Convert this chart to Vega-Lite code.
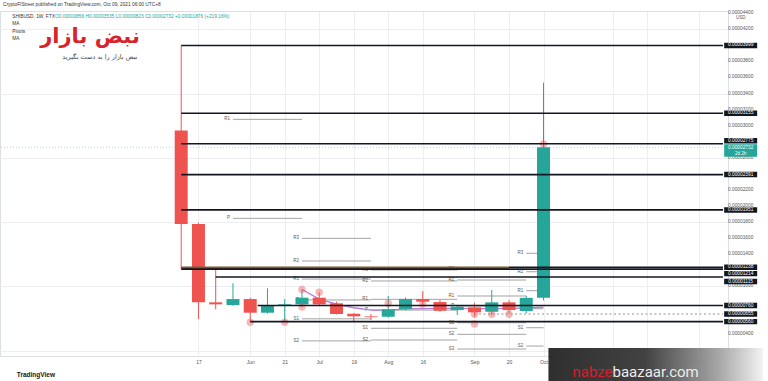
{
  "$schema": "https://vega.github.io/schema/vega-lite/v6.json",
  "width": 728,
  "height": 345,
  "autosize": {"type": "none"},
  "padding": {"left": 0, "top": 11, "right": 40, "bottom": 25},
  "background": "white",
  "title": {
    "text": "CryptoFIStreet published on TradingView.com, Oct 09, 2021 06:00 UTC+8",
    "anchor": "start", "frame": "group", "offset": 3, "dx": 3,
    "fontSize": 4.8, "font": "Liberation Sans", "fontWeight": "normal", "color": "#333333"
  },
  "config": {
    "view": {"stroke": "#dcdfe6"},
    "font": "Liberation Sans",
    "axis": {"title": null, "gridColor": "#eceef3", "tickSize": 0, "domain": false, "labelColor": "#555555", "labelFont": "Liberation Sans", "labelOverlap": false}
  },
  "datasets": {
    "candles": [
      {"date": "2021-05-10", "open": 0.0000294, "high": 0.00003999, "low": 0.00001214, "close": 0.00001775},
      {"date": "2021-05-17", "open": 0.00001775, "high": 0.00001792, "low": 0.00000592, "close": 0.0000080},
      {"date": "2021-05-24", "open": 0.0000080, "high": 0.00001231, "low": 0.00000713, "close": 0.00000775},
      {"date": "2021-05-31", "open": 0.00000767, "high": 0.00001037, "low": 0.00000755, "close": 0.00000841},
      {"date": "2021-06-07", "open": 0.00000841, "high": 0.00000858, "low": 0.0000056, "close": 0.00000671},
      {"date": "2021-06-14", "open": 0.00000671, "high": 0.00000975, "low": 0.0000066, "close": 0.00000767},
      {"date": "2021-06-21", "open": 0.00000758, "high": 0.00000841, "low": 0.0000056, "close": 0.00000775},
      {"date": "2021-06-28", "open": 0.00000775, "high": 0.0000096, "low": 0.00000742, "close": 0.00000858},
      {"date": "2021-07-05", "open": 0.00000858, "high": 0.00000925, "low": 0.00000755, "close": 0.00000775},
      {"date": "2021-07-12", "open": 0.00000788, "high": 0.00000808, "low": 0.0000065, "close": 0.00000655},
      {"date": "2021-07-19", "open": 0.00000658, "high": 0.00000665, "low": 0.00000567, "close": 0.00000626},
      {"date": "2021-07-26", "open": 0.00000625, "high": 0.00000655, "low": 0.0000058, "close": 0.00000615},
      {"date": "2021-08-02", "open": 0.00000621, "high": 0.00000879, "low": 0.0000061, "close": 0.00000713},
      {"date": "2021-08-09", "open": 0.00000717, "high": 0.0000086, "low": 0.000007, "close": 0.00000841},
      {"date": "2021-08-16", "open": 0.00000841, "high": 0.00000941, "low": 0.00000767, "close": 0.00000808},
      {"date": "2021-08-23", "open": 0.00000804, "high": 0.0000083, "low": 0.0000068, "close": 0.00000696},
      {"date": "2021-08-30", "open": 0.00000704, "high": 0.00000767, "low": 0.00000642, "close": 0.00000746},
      {"date": "2021-09-06", "open": 0.00000738, "high": 0.00000795, "low": 0.00000621, "close": 0.00000676},
      {"date": "2021-09-13", "open": 0.00000683, "high": 0.00000954, "low": 0.00000642, "close": 0.000008},
      {"date": "2021-09-20", "open": 0.000008, "high": 0.00000829, "low": 0.00000663, "close": 0.00000704},
      {"date": "2021-09-27", "open": 0.00000692, "high": 0.0000088, "low": 0.00000663, "close": 0.00000856},
      {"date": "2021-10-04", "open": 0.00000856, "high": 0.00003535, "low": 0.00000823, "close": 0.00002732}
    ],
    "ma": [
      {"date": "2021-06-28", "value": 0.0000096},
      {"date": "2021-07-05", "value": 0.00000841},
      {"date": "2021-07-12", "value": 0.00000777},
      {"date": "2021-07-19", "value": 0.00000733},
      {"date": "2021-07-26", "value": 0.00000704},
      {"date": "2021-08-02", "value": 0.00000704},
      {"date": "2021-08-09", "value": 0.00000717},
      {"date": "2021-08-16", "value": 0.00000723},
      {"date": "2021-08-23", "value": 0.00000726},
      {"date": "2021-08-30", "value": 0.00000726},
      {"date": "2021-09-06", "value": 0.00000723},
      {"date": "2021-09-13", "value": 0.00000723},
      {"date": "2021-09-20", "value": 0.00000726},
      {"date": "2021-09-27", "value": 0.0000073},
      {"date": "2021-10-04", "value": 0.0000074}
    ],
    "circles": [
      {"date": "2021-06-07", "value": 0.00000553},
      {"date": "2021-06-21", "value": 0.00000553},
      {"date": "2021-06-28", "value": 0.0000096},
      {"date": "2021-06-28", "value": 0.00000742},
      {"date": "2021-07-05", "value": 0.00000925},
      {"date": "2021-08-02", "value": 0.00000788},
      {"date": "2021-08-16", "value": 0.00000775},
      {"date": "2021-09-06", "value": 0.00000651},
      {"date": "2021-09-06", "value": 0.0000053},
      {"date": "2021-09-13", "value": 0.00000651},
      {"date": "2021-09-20", "value": 0.00000651},
      {"date": "2021-10-04", "value": 0.00002772}
    ],
    "pivots": [
      {"start": "2021-05-31", "end": "2021-06-28", "label": "R1", "value": 0.00003079},
      {"start": "2021-05-31", "end": "2021-06-28", "label": "P", "value": 0.00001846},
      {"start": "2021-06-28", "end": "2021-07-26", "label": "R3", "value": 0.00001597},
      {"start": "2021-06-28", "end": "2021-07-26", "label": "R2", "value": 0.00001315},
      {"start": "2021-06-28", "end": "2021-07-26", "label": "R1", "value": 0.0000109},
      {"start": "2021-06-28", "end": "2021-07-26", "label": "P", "value": 0.0000083},
      {"start": "2021-06-28", "end": "2021-07-26", "label": "S1", "value": 0.00000595},
      {"start": "2021-06-28", "end": "2021-07-26", "label": "S2", "value": 0.0000032},
      {"start": "2021-07-26", "end": "2021-08-30", "label": "R3", "value": 0.00001203},
      {"start": "2021-07-26", "end": "2021-08-30", "label": "R2", "value": 0.00001066},
      {"start": "2021-07-26", "end": "2021-08-30", "label": "R1", "value": 0.00000838},
      {"start": "2021-07-26", "end": "2021-08-30", "label": "P", "value": 0.00000704},
      {"start": "2021-07-26", "end": "2021-08-30", "label": "S1", "value": 0.00000477},
      {"start": "2021-07-26", "end": "2021-08-30", "label": "S2", "value": 0.00000331},
      {"start": "2021-08-30", "end": "2021-09-27", "label": "R3", "value": 0.00001211},
      {"start": "2021-08-30", "end": "2021-09-27", "label": "R2", "value": 0.00001078},
      {"start": "2021-08-30", "end": "2021-09-27", "label": "R1", "value": 0.00000879},
      {"start": "2021-08-30", "end": "2021-09-27", "label": "P", "value": 0.00000754},
      {"start": "2021-08-30", "end": "2021-09-27", "label": "S1", "value": 0.00000546},
      {"start": "2021-08-30", "end": "2021-09-27", "label": "S2", "value": 0.00000402},
      {"start": "2021-08-30", "end": "2021-09-27", "label": "S3", "value": 0.00000219},
      {"start": "2021-09-27", "end": "2021-10-04", "label": "R3", "value": 0.00001411},
      {"start": "2021-09-27", "end": "2021-10-04", "label": "R2", "value": 0.00001181},
      {"start": "2021-09-27", "end": "2021-10-04", "label": "R1", "value": 0.00000945},
      {"start": "2021-09-27", "end": "2021-10-04", "label": "P", "value": 0.0000072},
      {"start": "2021-09-27", "end": "2021-10-04", "label": "S1", "value": 0.00000484},
      {"start": "2021-09-27", "end": "2021-10-04", "label": "S2", "value": 0.00000256}
    ],
    "levels": [
      {"start": "2021-05-10", "value": 0.00003999},
      {"start": "2021-05-10", "value": 0.00003155},
      {"start": "2021-05-10", "value": 0.00002775},
      {"start": "2021-05-10", "value": 0.00002391},
      {"start": "2021-05-10", "value": 0.00001951},
      {"start": "2021-09-20", "value": 0.00001238},
      {"start": "2021-05-10", "value": 0.00001214},
      {"start": "2021-05-24", "value": 0.00001115},
      {"start": "2021-06-10", "value": 0.0000076},
      {"start": "2021-06-07", "value": 0.0000056}
    ],
    "dotted": [{"start": "2021-09-06", "value": 0.00000655}],
    "band": [{"start": "2021-05-10", "end": "2021-09-20", "value": 0.0000123}],
    "yticks": [
      {"value": 0.000002}, {"value": 0.000004}, {"value": 0.00001},
      {"value": 0.000014}, {"value": 0.000016}, {"value": 0.000018}, {"value": 0.00002},
      {"value": 0.000022}, {"value": 0.000026}, {"value": 0.00003},
      {"value": 0.000032}, {"value": 0.000034}, {"value": 0.000036}, {"value": 0.000038},
      {"value": 0.000042}, {"value": 0.000044}
    ],
    "tagsA": [
      {"value": 0.00003999}, {"value": 0.00003155}, {"value": 0.00002391}, {"value": 0.00001951},
      {"value": 0.00001238}, {"value": 0.0000076}, {"value": 0.00000655}, {"value": 0.0000056}
    ],
    "tagsB": [{"value": 0.00001214}, {"value": 0.00001115}],
    "tagsC": [{"value": 0.00002775}]
  },
  "layer": [
    {
      "data": {"name": "pivots"},
      "mark": {"type": "rule", "color": "#a3a3a3", "strokeWidth": 1},
      "encoding": {
        "x": {
          "field": "start", "type": "temporal",
          "scale": {"type": "utc", "domain": [{"year": 2021, "month": 2, "date": 27, "hours": 12, "utc": true}, {"year": 2021, "month": 12, "date": 15, "hours": 20, "utc": true}]},
          "axis": {
            "orient": "bottom", "title": null, "grid": true, "gridColor": "#eceef3", "tickSize": 0, "domain": false,
            "labelFontSize": 5, "labelColor": "#555555", "labelPadding": 3, "labelFont": "Liberation Sans", "labelOverlap": false,
            "values": [
              {"year": 2021, "month": 5, "date": 17, "utc": true},
              {"year": 2021, "month": 6, "date": 7, "utc": true},
              {"year": 2021, "month": 6, "date": 21, "utc": true},
              {"year": 2021, "month": 7, "date": 5, "utc": true},
              {"year": 2021, "month": 7, "date": 19, "utc": true},
              {"year": 2021, "month": 8, "date": 2, "utc": true},
              {"year": 2021, "month": 8, "date": 16, "utc": true},
              {"year": 2021, "month": 9, "date": 6, "utc": true},
              {"year": 2021, "month": 9, "date": 20, "utc": true},
              {"year": 2021, "month": 10, "date": 4, "utc": true},
              {"year": 2021, "month": 11, "date": 1, "utc": true},
              {"year": 2021, "month": 11, "date": 15, "utc": true},
              {"year": 2021, "month": 12, "date": 6, "utc": true}
            ],
            "labelExpr": "utcmonth(datum.value) == 10 ? '' : (utcdate(datum.value) <= 7 ? utcFormat(datum.value, '%b') : utcFormat(datum.value, '%-d'))"
          }
        },
        "x2": {"field": "end"},
        "y": {
          "field": "value", "type": "quantitative",
          "scale": {"domain": [0.00000132, 0.00004428], "nice": false, "zero": false},
          "axis": {
            "orient": "right", "title": null, "grid": true, "gridColor": "#eceef3", "tickSize": 0, "domain": false, "labels": false,
            "values": [0.000002, 0.000004, 0.000006, 0.000008, 0.00001, 0.000012, 0.000014, 0.000016, 0.000018, 0.00002, 0.000022, 0.000024, 0.000026, 0.000028, 0.00003, 0.000032, 0.000034, 0.000036, 0.000038, 0.00004, 0.000042, 0.000044]
          }
        }
      }
    },
    {
      "data": {"name": "yticks"},
      "mark": {"type": "text", "align": "left", "baseline": "middle", "dx": 5, "fontSize": 4.8, "color": "#555555"},
      "encoding": {
        "x": {"datum": {"year": 2021, "month": 12, "date": 15, "hours": 20, "utc": true}, "type": "temporal"},
        "y": {"field": "value", "type": "quantitative"},
        "text": {"field": "value", "type": "quantitative", "format": ".8f"}
      }
    },
    {
      "data": {"name": "pivots"},
      "mark": {"type": "text", "align": "right", "baseline": "middle", "dx": -3, "fontSize": 4.5, "color": "#555555"},
      "encoding": {
        "x": {"field": "start", "type": "temporal"},
        "y": {"field": "value", "type": "quantitative"},
        "text": {"field": "label"}
      }
    },
    {
      "data": {"values": [{}]},
      "mark": {"type": "rule", "color": "#a9dcd6", "strokeWidth": 1, "strokeDash": [1, 2]},
      "encoding": {"y": {"datum": 0.00002732, "type": "quantitative"}}
    },
    {
      "data": {"name": "ma"},
      "mark": {"type": "line", "color": "#b77bd6", "strokeWidth": 1.3},
      "encoding": {
        "x": {"field": "date", "type": "temporal"},
        "y": {"field": "value", "type": "quantitative"}
      }
    },
    {
      "data": {"name": "candles"},
      "mark": {"type": "rule", "strokeWidth": 1},
      "encoding": {
        "x": {"field": "date", "type": "temporal"},
        "y": {"field": "low", "type": "quantitative"},
        "y2": {"field": "high"},
        "color": {"condition": {"test": "datum.close >= datum.open", "value": "#26a69a"}, "value": "#ef5350"}
      }
    },
    {
      "data": {"name": "candles"},
      "mark": {"type": "bar", "width": 13},
      "encoding": {
        "x": {"field": "date", "type": "temporal"},
        "y": {"field": "open", "type": "quantitative"},
        "y2": {"field": "close"},
        "color": {"condition": {"test": "datum.close >= datum.open", "value": "#26a69a"}, "value": "#ef5350"}
      }
    },
    {
      "data": {"name": "circles"},
      "mark": {"type": "point", "shape": "circle", "filled": true, "size": 55, "color": "#ef5350", "opacity": 0.42, "strokeWidth": 0},
      "encoding": {
        "x": {"field": "date", "type": "temporal"},
        "y": {"field": "value", "type": "quantitative"}
      }
    },
    {
      "data": {"name": "band"},
      "mark": {"type": "rule", "color": "#7a5a30", "strokeWidth": 2.6},
      "encoding": {
        "x": {"field": "start", "type": "temporal"},
        "x2": {"field": "end"},
        "y": {"field": "value", "type": "quantitative"}
      }
    },
    {
      "data": {"name": "levels"},
      "mark": {"type": "rule", "color": "#131722", "strokeWidth": 1.6},
      "encoding": {
        "x": {"field": "start", "type": "temporal"},
        "x2": {"datum": {"year": 2021, "month": 12, "date": 15, "hours": 20, "utc": true}},
        "y": {"field": "value", "type": "quantitative"}
      }
    },
    {
      "data": {"name": "dotted"},
      "mark": {"type": "rule", "color": "#8f939c", "strokeWidth": 1.2, "strokeDash": [2, 2.5]},
      "encoding": {
        "x": {"field": "start", "type": "temporal"},
        "x2": {"datum": {"year": 2021, "month": 12, "date": 15, "hours": 20, "utc": true}},
        "y": {"field": "value", "type": "quantitative"}
      }
    },
    {
      "data": {"name": "tagsA"},
      "mark": {"type": "point", "shape": "M-1,-0.165L1,-0.165L1,0.165L-1,0.165Z", "size": 1089, "filled": true, "opacity": 1, "color": "#131722", "strokeWidth": 0},
      "encoding": {
        "x": {"datum": {"year": 2021, "month": 12, "date": 23, "utc": true}, "type": "temporal"},
        "y": {"field": "value", "type": "quantitative"}
      }
    },
    {
      "data": {"name": "tagsA"},
      "mark": {"type": "text", "align": "center", "baseline": "middle", "fontSize": 4.8, "color": "white"},
      "encoding": {
        "x": {"datum": {"year": 2021, "month": 12, "date": 23, "utc": true}, "type": "temporal"},
        "y": {"field": "value", "type": "quantitative"},
        "text": {"field": "value", "type": "quantitative", "format": ".8f"}
      }
    },
    {
      "data": {"name": "tagsB"},
      "mark": {"type": "point", "shape": "M-1,-0.165L1,-0.165L1,0.165L-1,0.165Z", "size": 1089, "filled": true, "opacity": 1, "color": "#131722", "strokeWidth": 0, "yOffset": 4.5},
      "encoding": {
        "x": {"datum": {"year": 2021, "month": 12, "date": 23, "utc": true}, "type": "temporal"},
        "y": {"field": "value", "type": "quantitative"}
      }
    },
    {
      "data": {"name": "tagsB"},
      "mark": {"type": "text", "align": "center", "baseline": "middle", "fontSize": 4.8, "color": "white", "yOffset": 4.5},
      "encoding": {
        "x": {"datum": {"year": 2021, "month": 12, "date": 23, "utc": true}, "type": "temporal"},
        "y": {"field": "value", "type": "quantitative"},
        "text": {"field": "value", "type": "quantitative", "format": ".8f"}
      }
    },
    {
      "data": {"name": "tagsC"},
      "mark": {"type": "point", "shape": "M-1,-0.165L1,-0.165L1,0.165L-1,0.165Z", "size": 1089, "filled": true, "opacity": 1, "color": "#131722", "strokeWidth": 0, "yOffset": -3},
      "encoding": {
        "x": {"datum": {"year": 2021, "month": 12, "date": 23, "utc": true}, "type": "temporal"},
        "y": {"field": "value", "type": "quantitative"}
      }
    },
    {
      "data": {"name": "tagsC"},
      "mark": {"type": "text", "align": "center", "baseline": "middle", "fontSize": 4.8, "color": "white", "yOffset": -3},
      "encoding": {
        "x": {"datum": {"year": 2021, "month": 12, "date": 23, "utc": true}, "type": "temporal"},
        "y": {"field": "value", "type": "quantitative"},
        "text": {"field": "value", "type": "quantitative", "format": ".8f"}
      }
    },
    {
      "data": {"values": [{"value": 0.00002732}]},
      "mark": {"type": "point", "shape": "M-1,-0.375L1,-0.375L1,0.375L-1,0.375Z", "size": 1089, "filled": true, "opacity": 1, "color": "#26a69a", "strokeWidth": 0, "yOffset": 3.3},
      "encoding": {
        "x": {"datum": {"year": 2021, "month": 12, "date": 23, "utc": true}, "type": "temporal"},
        "y": {"field": "value", "type": "quantitative"}
      }
    },
    {
      "data": {"values": [{"value": 0.00002732}]},
      "mark": {"type": "text", "align": "center", "baseline": "middle", "fontSize": 4.8, "color": "white", "yOffset": 0.8},
      "encoding": {
        "x": {"datum": {"year": 2021, "month": 12, "date": 23, "utc": true}, "type": "temporal"},
        "y": {"field": "value", "type": "quantitative"},
        "text": {"field": "value", "type": "quantitative", "format": ".8f"}
      }
    },
    {
      "data": {"values": [{"value": 0.00002732}]},
      "mark": {"type": "text", "align": "center", "baseline": "middle", "fontSize": 4.5, "color": "white", "yOffset": 6.4, "text": "2d 2h"},
      "encoding": {
        "x": {"datum": {"year": 2021, "month": 12, "date": 23, "utc": true}, "type": "temporal"},
        "y": {"field": "value", "type": "quantitative"}
      }
    },
    {
      "data": {"values": [{}]},
      "mark": {"type": "text", "align": "center", "baseline": "middle", "fontSize": 4.5, "color": "#555555", "text": "USD"},
      "encoding": {
        "x": {"datum": {"year": 2021, "month": 12, "date": 23, "utc": true}, "type": "temporal"},
        "y": {"datum": 0.0000434, "type": "quantitative"}
      }
    },
    {
      "data": {"values": [{}]},
      "mark": {"type": "text", "align": "left", "baseline": "middle", "fontSize": 4.8, "color": "#333333", "lineHeight": 7.5, "text": ["SHIBUSD, 1W, FTX", "MA", "Pivots", "MA"]},
      "encoding": {
        "x": {"datum": {"year": 2021, "month": 3, "date": 2, "hours": 10, "utc": true}, "type": "temporal"},
        "y": {"datum": 0.00004357, "type": "quantitative"}
      }
    },
    {
      "data": {"values": [{}]},
      "mark": {"type": "text", "align": "left", "baseline": "middle", "fontSize": 4.8, "color": "#26a69a", "text": "O0.00000856  H0.00003535  L0.00000823  C0.00002732  +0.00001876 (+219.16%)"},
      "encoding": {
        "x": {"datum": {"year": 2021, "month": 3, "date": 19, "hours": 19, "utc": true}, "type": "temporal"},
        "y": {"datum": 0.00004357, "type": "quantitative"}
      }
    },
    {
      "data": {"values": [{}]},
      "mark": {"type": "text", "align": "center", "baseline": "middle", "fontSize": 21, "fontWeight": "bold", "font": "DejaVu Sans", "color": "#d8232a", "text": "نبض بازار"},
      "encoding": {
        "x": {"datum": {"year": 2021, "month": 4, "date": 3, "utc": true}, "type": "temporal"},
        "y": {"datum": 0.0000410, "type": "quantitative"}
      }
    },
    {
      "data": {"values": [{}]},
      "mark": {"type": "text", "align": "center", "baseline": "middle", "fontSize": 6.5, "font": "DejaVu Sans", "color": "#444444", "text": "نبض بازار را به دست بگیرید"},
      "encoding": {
        "x": {"datum": {"year": 2021, "month": 4, "date": 7, "utc": true}, "type": "temporal"},
        "y": {"datum": 0.00003855, "type": "quantitative"}
      }
    },
    {
      "data": {"values": [{}]},
      "mark": {"type": "text", "align": "left", "baseline": "middle", "fontSize": 6.5, "fontWeight": "bold", "color": "#131722", "text": "TradingView"},
      "encoding": {
        "x": {"datum": {"year": 2021, "month": 3, "date": 4, "hours": 7, "utc": true}, "type": "temporal"},
        "y": {"datum": -0.00000105, "type": "quantitative"}
      }
    },
    {
      "data": {"values": [{}]},
      "mark": {"type": "rect", "opacity": 0.96, "fill": {"gradient": "linear", "x1": 0, "y1": 0, "x2": 1, "y2": 0, "stops": [{"offset": 0, "color": "#262626"}, {"offset": 0.45, "color": "#3a3a3a"}, {"offset": 0.8, "color": "#a5a5a5"}, {"offset": 1, "color": "#f2f2f2"}]}},
      "encoding": {
        "x": {"datum": {"year": 2021, "month": 10, "date": 6, "utc": true}, "type": "temporal"},
        "x2": {"datum": {"year": 2022, "month": 1, "date": 1, "utc": true}},
        "y": {"datum": 0.00000231, "type": "quantitative"},
        "y2": {"datum": -0.000002}
      }
    },
    {
      "data": {"values": [{}]},
      "mark": {"type": "text", "align": "right", "baseline": "alphabetic", "fontSize": 15, "font": "Roboto", "color": "#d11f2b", "text": "nabze"},
      "encoding": {
        "x": {"datum": {"year": 2021, "month": 11, "date": 1, "utc": true}, "type": "temporal"},
        "y": {"datum": -0.0000013, "type": "quantitative"}
      }
    },
    {
      "data": {"values": [{}]},
      "mark": {"type": "text", "align": "left", "baseline": "alphabetic", "fontSize": 15, "font": "Roboto", "color": "#ececec", "text": "baazaar.com"},
      "encoding": {
        "x": {"datum": {"year": 2021, "month": 11, "date": 1, "utc": true}, "type": "temporal"},
        "y": {"datum": -0.0000013, "type": "quantitative"}
      }
    }
  ]
}
